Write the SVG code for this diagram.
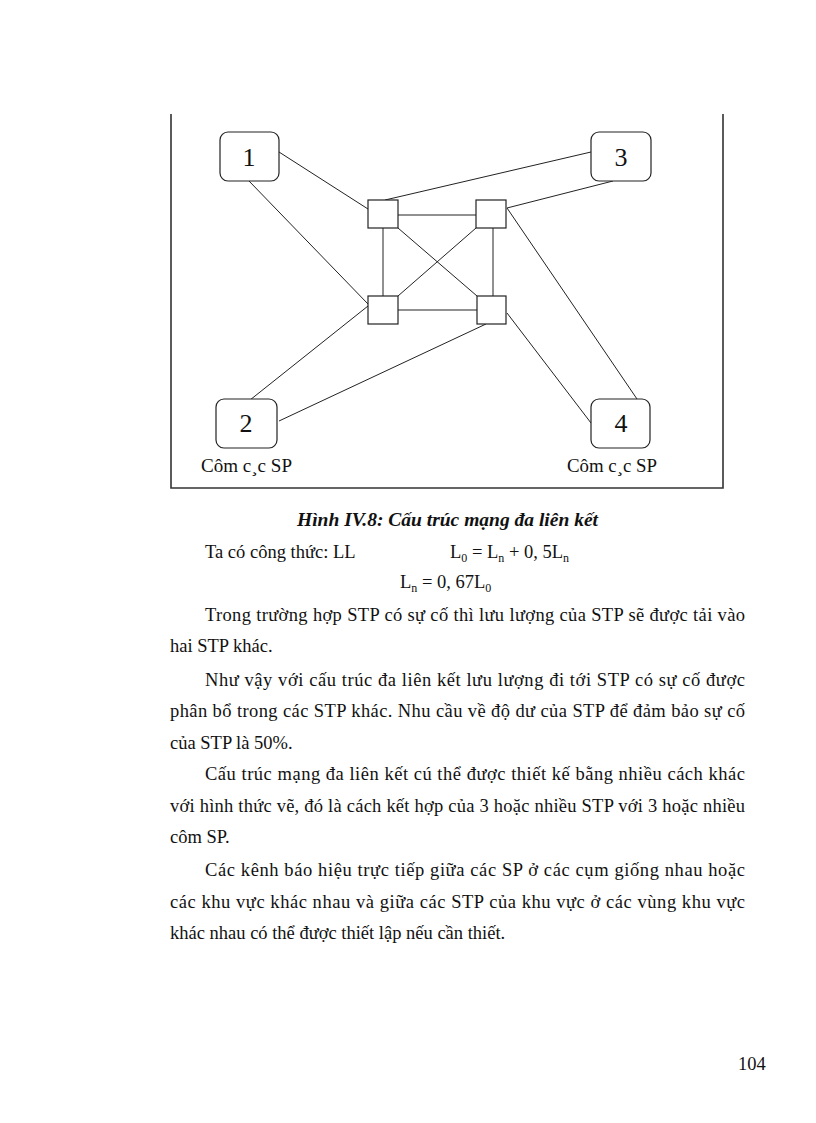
<svg xmlns="http://www.w3.org/2000/svg" width="816" height="1123" viewBox="0 0 816 1123">
<style>
.frame{fill:none;stroke:#333;stroke-width:1.6}
.sp{fill:#fff;stroke:#222;stroke-width:1.2}
.stp{fill:#fff;stroke:#222;stroke-width:1.2}
.num{font-family:"Liberation Serif","Times New Roman",serif;font-size:26px;fill:#111;text-anchor:middle}
.lbl{font-family:"Liberation Serif","Times New Roman",serif;font-size:18px;fill:#111}
.cap{font-family:"Liberation Serif","Times New Roman",serif;font-size:18px;font-weight:bold;font-style:italic;fill:#111}
.body{font-family:"Liberation Serif","Times New Roman",serif;font-size:18.5px;fill:#111}
.sub{font-size:12px}
#connectors line{stroke:#222;stroke-width:1}
</style>
<rect width="816" height="1123" fill="#fff"/>
<path class="frame" d="M171,114 V488 H723 V114"/>
<g id="connectors">
<line x1="279" y1="152" x2="368" y2="209"/>
<line x1="249" y1="181" x2="368" y2="304"/>
<line x1="591" y1="152" x2="385" y2="200"/>
<line x1="613" y1="181" x2="507" y2="208"/>
<line x1="507" y1="208" x2="637" y2="399"/>
<line x1="250" y1="400" x2="368" y2="306"/>
<line x1="279" y1="421" x2="486" y2="324"/>
<line x1="507" y1="313" x2="591" y2="423"/>
<line x1="398" y1="215" x2="476" y2="215"/>
<line x1="398" y1="310" x2="477" y2="310"/>
<line x1="383" y1="228" x2="383" y2="296"/>
<line x1="493" y1="228" x2="493" y2="296"/>
<line x1="398" y1="228" x2="477" y2="296"/>
<line x1="476" y1="228" x2="398" y2="296"/>
</g>
<g id="sp1"><rect class="sp" x="220" y="132" width="59" height="49" rx="8"/><text class="num" x="249" y="166">1</text></g>
<g id="sp3"><rect class="sp" x="591" y="132" width="60" height="49" rx="8"/><text class="num" x="621" y="166">3</text></g>
<g id="sp2"><rect class="sp" x="216" y="399" width="61" height="49" rx="8"/><text class="num" x="246" y="432">2</text><text class="lbl" x="201" y="472" textLength="91" lengthAdjust="spacingAndGlyphs">Côm c¸c SP</text></g>
<g id="sp4"><rect class="sp" x="591" y="399" width="59" height="49" rx="8"/><text class="num" x="621" y="432">4</text><text class="lbl" x="567" y="472" textLength="90" lengthAdjust="spacingAndGlyphs">Côm c¸c SP</text></g>
<g id="stp1"><rect class="stp" x="368" y="200" width="30" height="28"/></g>
<g id="stp2"><rect class="stp" x="476" y="200" width="30" height="28"/></g>
<g id="stp3"><rect class="stp" x="368" y="296" width="30" height="28"/></g>
<g id="stp4"><rect class="stp" x="477" y="296" width="29" height="28"/></g>
<text class="cap" x="297" y="526" textLength="301" lengthAdjust="spacingAndGlyphs">Hình IV.8: Cấu trúc mạng đa liên kết</text>
<text class="body" x="205" y="558">Ta có công thức: LL</text>
<text class="body" x="450" y="558">L<tspan class="sub" dy="4">0</tspan><tspan dy="-4"> = L</tspan><tspan class="sub" dy="4">n</tspan><tspan dy="-4"> + 0, 5L</tspan><tspan class="sub" dy="4">n</tspan></text>
<text class="body" x="400" y="588">L<tspan class="sub" dy="4">n</tspan><tspan dy="-4"> = 0, 67L</tspan><tspan class="sub" dy="4">0</tspan></text>
<text class="body" x="205" y="621" textLength="540" lengthAdjust="spacing">Trong trường hợp STP có sự cố thì lưu lượng của STP sẽ được tải vào</text>
<text class="body" x="170" y="652">hai STP khác.</text>
<text class="body" x="205" y="686" textLength="540" lengthAdjust="spacing">Như vậy với cấu trúc đa liên kết lưu lượng đi tới STP có sự cố được</text>
<text class="body" x="170" y="717" textLength="575" lengthAdjust="spacing">phân bổ trong các STP khác. Nhu cầu về độ dư của STP để đảm bảo sự cố</text>
<text class="body" x="170" y="749">của STP là 50%.</text>
<text class="body" x="205" y="780" textLength="540" lengthAdjust="spacing">Cấu trúc mạng đa liên kết cú thể được thiết kế bằng nhiều cách khác</text>
<text class="body" x="170" y="812" textLength="575" lengthAdjust="spacing">với hình thức vẽ, đó là cách kết hợp của 3 hoặc nhiều STP với 3 hoặc nhiều</text>
<text class="body" x="170" y="843">côm SP.</text>
<text class="body" x="205" y="876" textLength="540" lengthAdjust="spacing">Các kênh báo hiệu trực tiếp giữa các SP ở các cụm giống nhau hoặc</text>
<text class="body" x="170" y="908" textLength="575" lengthAdjust="spacing">các khu vực khác nhau và giữa các STP của khu vực ở các vùng khu vực</text>
<text class="body" x="170" y="939">khác nhau có thể được thiết lập nếu cần thiết.</text>
<text class="body" x="738" y="1070">104</text>
</svg>
